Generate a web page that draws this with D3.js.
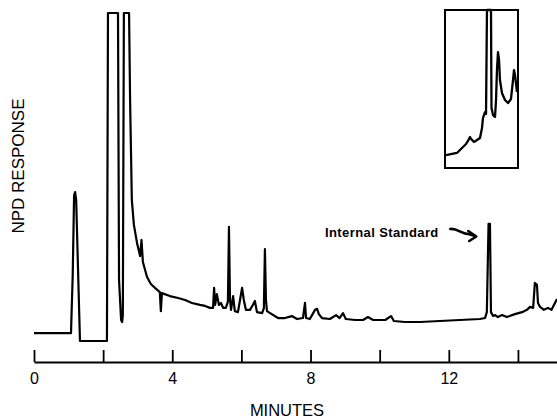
<!DOCTYPE html>
<html>
<head>
<meta charset="utf-8">
<script src="https://cdn.jsdelivr.net/npm/d3@7"></script>
<style>
  html, body { margin: 0; padding: 0; background: #fff; }
  svg { display: block; }
</style>
</head>
<body>
<div id="chart"></div>
<script>
// ---- data ----
const timeMin = [0, 1.07, 1.12, 1.16, 1.19, 1.22, 1.29, 1.33, 2.11, 2.14, 2.40, 2.43, 2.46, 2.52, 2.55, 2.57, 2.60, 2.75, 2.78, 2.81, 2.83, 2.89, 2.98, 3.07, 3.11, 3.15, 3.27, 3.38, 3.50, 3.64, 3.67, 3.70, 3.93, 4.17, 4.37, 4.57, 4.80, 4.95, 5.09, 5.18, 5.21, 5.24, 5.29, 5.35, 5.41, 5.47, 5.55, 5.61, 5.64, 5.67, 5.70, 5.76, 5.81, 5.90, 5.96, 6.02, 6.07, 6.13, 6.25, 6.33, 6.39, 6.45, 6.60, 6.65, 6.68, 6.71, 6.74, 6.83, 7.06, 7.26, 7.46, 7.61, 7.78, 7.84, 7.87, 7.98, 8.13, 8.19, 8.24, 8.33, 8.56, 8.74, 8.84, 8.94, 9.02, 9.29, 9.52, 9.66, 9.81, 10.16, 10.33, 10.41, 10.73, 11.17, 11.74, 12.32, 12.90, 13.05, 13.10, 13.15, 13.19, 13.22, 13.28, 13.34, 13.42, 13.54, 13.68, 13.91, 14.12, 14.26, 14.35, 14.44, 14.49, 14.55, 14.58, 14.64, 14.75, 14.87, 14.97, 15.13];
const response = [2.4, 2.4, 20, 44.5, 45.4, 43, 15.5, 0, 0, 100, 100, 100, 18.6, 6.4, 5.8, 7.9, 100, 100, 73.5, 55.2, 43, 35.4, 29.9, 25.9, 30.8, 24.1, 19.5, 17.4, 16.2, 14.9, 9.1, 14.6, 13.7, 13.1, 12.5, 11.6, 11.0, 10.7, 10.1, 10.1, 16.2, 11.0, 14.3, 11.0, 11.6, 10.1, 10.1, 12, 34.8, 12.5, 9.5, 13.7, 9.1, 8.8, 12.5, 16.2, 12.5, 9.5, 9.5, 11.0, 12.2, 8.8, 8.5, 10, 28, 12.5, 9.1, 8.5, 7.0, 7.0, 7.6, 6.7, 7.0, 11.6, 7.0, 6.7, 9.5, 9.8, 8.2, 7.0, 6.7, 7.9, 7.0, 8.5, 6.7, 6.4, 6.4, 7.3, 6.4, 6.4, 7.6, 6.1, 5.8, 5.8, 6.1, 6.4, 6.7, 7.0, 8.8, 35.7, 35.7, 8.8, 7.6, 7.9, 7.3, 7.9, 7.3, 8.2, 8.8, 9.5, 10.4, 10.1, 17.7, 17.1, 11.6, 10.4, 9.5, 10.1, 9.5, 12.8];

// inset (expanded trace), arbitrary units 0..100
const insetX = [1.4, 9.6, 16.4, 20.5, 24.7, 28.8, 31.5, 34.2, 37, 39.7, 43.8, 47.9, 50.7, 52, 54.8, 56.2, 57.5, 63, 63.7, 65.8, 68.5, 69.9, 71.2, 72.6, 74, 75.3, 78, 82.2, 86.3, 90.4, 93.2, 94.5, 95.9, 98.6];
const insetY = [8.2, 8.9, 9.5, 11.4, 13.3, 15.2, 17.1, 19.6, 17.7, 16.5, 17.7, 19, 25.3, 31.6, 35.4, 34.2, 100, 100, 38, 33.5, 32.3, 43, 62, 73.4, 68.4, 55.7, 47.5, 43, 41.1, 43.7, 55.7, 62, 58.9, 48.1];

const tickValues = [0, 2, 4, 6, 8, 10, 12, 14];
const tickLabels = ["0", "", "4", "", "8", "", "12", ""];
const xTitle = "MINUTES";
const yTitle = "NPD RESPONSE";
const annotation = "Internal Standard";
const internalStdTime = 13.17;

// ---- drawing ----
const W = 557, H = 420;
const FONT = "Arial, 'Liberation Sans', Helvetica, sans-serif";
const svg = d3.select("#chart").append("svg")
  .attr("width", W).attr("height", H)
  .style("background", "#fff");

const x = d3.scaleLinear().domain([0, 15.13]).range([34, 557]);
const y = d3.scaleLinear().domain([0, 100]).range([341, 13]);

const line = d3.line().x((d, i) => x(timeMin[i])).y(d => y(d));

svg.append("path")
  .datum(response)
  .attr("d", line)
  .attr("fill", "none")
  .attr("stroke", "#000")
  .attr("stroke-width", 2.2)
  .attr("stroke-linejoin", "round");

// axis
const axis = d3.axisBottom(x)
  .tickValues(tickValues)
  .tickFormat((d, i) => tickLabels[i])
  .tickSizeInner(-12)
  .tickSizeOuter(0)
  .tickPadding(11);

const gAxis = svg.append("g")
  .attr("transform", "translate(0,362)")
  .call(axis);
gAxis.select(".domain").attr("stroke", "#000").attr("stroke-width", 2);
gAxis.selectAll(".tick line").attr("stroke", "#000").attr("stroke-width", 1.8);
gAxis.selectAll(".tick text")
  .attr("fill", "#000")
  .style("font-family", FONT)
  .style("font-size", "16px");

// axis titles
svg.append("text")
  .attr("x", 287).attr("y", 416)
  .attr("text-anchor", "middle")
  .style("font-family", FONT)
  .style("font-size", "16.5px")
  .text(xTitle);

svg.append("text")
  .attr("transform", "translate(24,166) rotate(-90)")
  .attr("text-anchor", "middle")
  .style("font-family", FONT)
  .style("font-size", "17px")
  .text(yTitle);

// annotation
svg.append("text")
  .attr("x", 325).attr("y", 237)
  .style("font-family", FONT)
  .style("font-size", "13px")
  .style("letter-spacing", "0.4px")
  .style("font-weight", "bold")
  .text(annotation);

const ax = x(internalStdTime) - 14;
svg.append("path")
  .attr("d", `M${ax - 25},${229} C${ax - 18},${228} ${ax - 14},${234} ${ax - 7},${234} L${ax},${236}`)
  .attr("fill", "none").attr("stroke", "#000").attr("stroke-width", 2.6).attr("stroke-linecap", "round");
svg.append("path")
  .attr("d", `M${ax - 7},${231} L${ax + 1},${236.5} L${ax - 6},${241}`)
  .attr("fill", "none").attr("stroke", "#000").attr("stroke-width", 2.6).attr("stroke-linejoin", "round").attr("stroke-linecap", "round");

// inset
const ix = d3.scaleLinear().domain([0, 100]).range([445, 518]);
const iy = d3.scaleLinear().domain([0, 100]).range([168, 10]);
svg.append("rect")
  .attr("x", ix(0)).attr("y", iy(100))
  .attr("width", ix(100) - ix(0)).attr("height", iy(0) - iy(100))
  .attr("fill", "none").attr("stroke", "#000").attr("stroke-width", 2);
const iline = d3.line().x((d, i) => ix(insetX[i])).y(d => iy(d));
svg.append("path")
  .datum(insetY)
  .attr("d", iline)
  .attr("fill", "none").attr("stroke", "#000").attr("stroke-width", 2.3)
  .attr("stroke-linejoin", "round");
</script>
</body>
</html>
